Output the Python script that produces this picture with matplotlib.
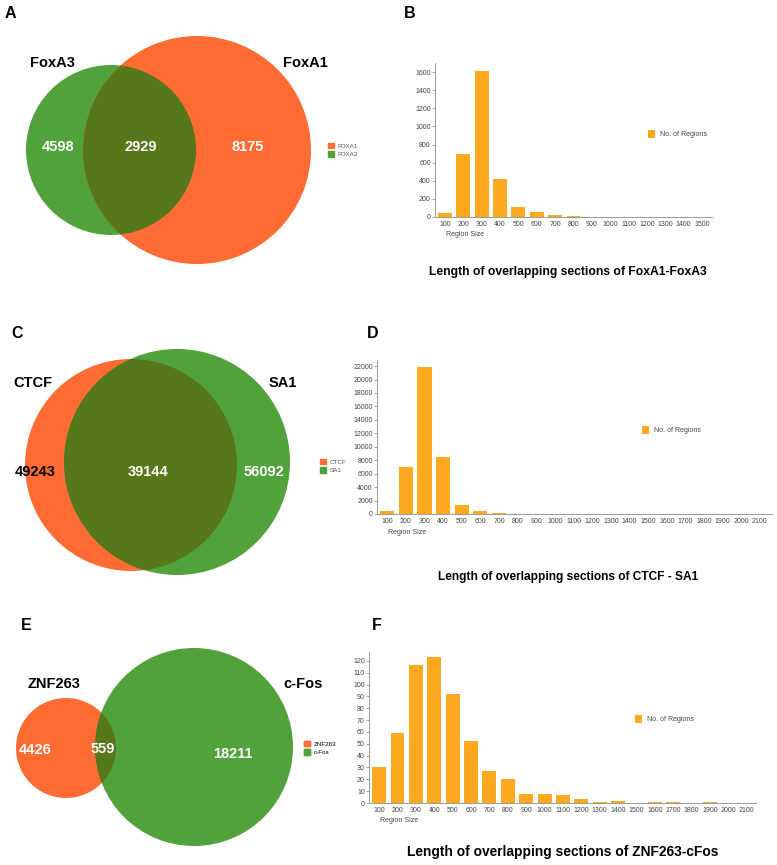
import matplotlib.pyplot as plt
from matplotlib.patches import Circle, Patch

plt.rcParams['font.family'] = ['Liberation Sans', 'DejaVu Sans']

# venn counts (only A, overlap, only B)
foxa_counts = [4598, 2929, 8175]
ctcf_counts = [49243, 39144, 56092]
znf_counts = [4426, 559, 18211]

# region size histograms
sizes_b = [100, 200, 300, 400, 500, 600, 700, 800, 900, 1000, 1100, 1200, 1300, 1400, 1500]
regions_b = [40, 690, 1615, 420, 110, 55, 20, 8, 5, 3, 2, 1, 1, 1, 1]

sizes_d = [100, 200, 300, 400, 500, 600, 700, 800, 900, 1000, 1100, 1200, 1300, 1400,
           1500, 1600, 1700, 1800, 1900, 2000, 2100]
regions_d = [450, 7000, 21900, 8500, 1300, 450, 150, 60, 30, 15, 10, 6, 4, 3, 2, 2, 1, 1, 1, 1, 1]

sizes_f = [100, 200, 300, 400, 500, 600, 700, 800, 900, 1000, 1100, 1200, 1300, 1400,
           1500, 1600, 1700, 1800, 1900, 2000, 2100]
regions_f = [30, 59, 117, 123, 92, 52, 27, 20, 8, 8, 7, 3, 1, 2, 0, 1, 1, 0, 1, 0, 0]

ORANGE = '#fe6c33'
GREEN = '#51a23a'
OLIVE = '#56771a'
BAR = '#fda91f'

W, H = 777, 865
fig = plt.figure(figsize=(W / 100, H / 100), dpi=100)
ov = fig.add_axes([0, 0, 1, 1])
ov.set_xlim(0, W)
ov.set_ylim(H, 0)
ov.axis('off')


def venn(c1, r1, col1, c2, r2, col2):
    a = Circle(c1, r1, color=col1, lw=0)
    b = Circle(c2, r2, color=col2, lw=0)
    ov.add_patch(a)
    ov.add_patch(b)
    inter = Circle(c1, r1, color=OLIVE, lw=0)
    ov.add_patch(inter)
    inter.set_clip_path(b)


def num(x, y, v, color='white'):
    ov.text(x, y, str(v), color=color, fontsize=10.5, fontweight='bold', ha='center', va='center')


def name(x, y, s):
    ov.text(x, y, s, fontsize=10.5, fontweight='bold', ha='center', va='center')


def venn_legend(x, y, labels, colors):
    handles = [Patch(color=c, label=l) for l, c in zip(labels, colors)]
    lg = ov.legend(handles=handles, loc='center left', bbox_to_anchor=(x, y),
                   bbox_transform=ov.transData, frameon=False, fontsize=4.5,
                   handlelength=1.0, handleheight=1.0, handletextpad=0.5,
                   labelspacing=0.4, borderpad=0, labelcolor='#555555')
    ov.add_artist(lg)


# panel letters
for lab, x, y in [('A', 10, 13), ('B', 410, 13), ('C', 17, 334), ('D', 373, 334), ('E', 26, 625), ('F', 377, 625)]:
    ov.text(x, y, lab, fontsize=11.5, fontweight='bold', ha='center', va='center')

# A
venn((111, 150), 85, GREEN, (197, 150), 114, ORANGE)
name(52, 63, 'FoxA3')
name(305, 63, 'FoxA1')
num(58, 147, foxa_counts[0])
num(141, 147, foxa_counts[1])
num(248, 147, foxa_counts[2])
venn_legend(325, 150, ['FOXA1', 'FOXA3'], [ORANGE, GREEN])

# C
venn((131, 465), 106, ORANGE, (177, 462), 113, GREEN)
name(33, 383, 'CTCF')
name(283, 383, 'SA1')
num(35, 472, ctcf_counts[0], color='black')
num(148, 472, ctcf_counts[1])
num(264, 472, ctcf_counts[2])
venn_legend(317, 466, ['CTCF', 'SA1'], [ORANGE, GREEN])

# E
venn((66, 748), 50, ORANGE, (194, 747), 99, GREEN)
name(54, 684, 'ZNF263')
name(303, 684, 'c-Fos')
num(35, 750, znf_counts[0])
num(103, 749, znf_counts[1])
num(233, 754, znf_counts[2])
venn_legend(301, 748, ['ZNF263', 'c-Fos'], [ORANGE, GREEN])


def bars(left, right, top, bottom, sizes, vals, ylim, yticks, xlim, legend_xy, label_y,
         title, title_xy, title_size):
    ax = fig.add_axes([left / W, 1 - bottom / H, (right - left) / W, (bottom - top) / H])
    pos = range(len(sizes))
    ax.bar(pos, vals, width=0.76, color=BAR, label='No. of Regions')
    ax.set_xlim(*xlim)
    ax.set_ylim(*ylim)
    ax.set_xticks(list(pos))
    ax.set_xticklabels([str(s) for s in sizes])
    ax.set_yticks(yticks)
    ax.tick_params(axis='x', length=0, labelsize=5, labelcolor='#444444', pad=3)
    ax.tick_params(axis='y', length=2, width=0.5, color='#888888', labelsize=5, labelcolor='#444444', pad=1)
    for s in ['top', 'right']:
        ax.spines[s].set_visible(False)
    for s in ['left', 'bottom']:
        ax.spines[s].set_color('#999999')
        ax.spines[s].set_linewidth(0.7)
    ax.legend(loc='center left', bbox_to_anchor=legend_xy, bbox_transform=ov.transData,
              frameon=False, fontsize=5, handlelength=1.0, handleheight=1.3,
              handletextpad=0.6, borderpad=0, labelcolor='#444444')
    ov.text(left + 11, label_y, 'Region Size', fontsize=5, color='#444444', ha='left', va='center')
    ov.text(title_xy[0], title_xy[1], title, fontsize=title_size, fontweight='bold', ha='center', va='center')
    return ax


bars(435, 712, 63, 217, sizes_b, regions_b, (0, 1700), list(range(0, 1601, 200)),
     (-0.55, 14.55), (645, 134), 234, 'Length of overlapping sections of FoxA1-FoxA3', (568, 272), 8.7)
bars(377, 772, 360, 514, sizes_d, regions_d, (0, 22900), list(range(0, 22001, 2000)),
     (-0.55, 20.65), (639, 430), 532, 'Length of overlapping sections of CTCF - SA1', (568, 577), 8.6)
bars(369, 756, 652, 803, sizes_f, regions_f, (0, 127.6), list(range(0, 121, 10)),
     (-0.55, 20.5), (632, 719), 820, 'Length of overlapping sections of ZNF263-cFos', (563, 852), 9.9)

fig.savefig('out.png', dpi=100)
